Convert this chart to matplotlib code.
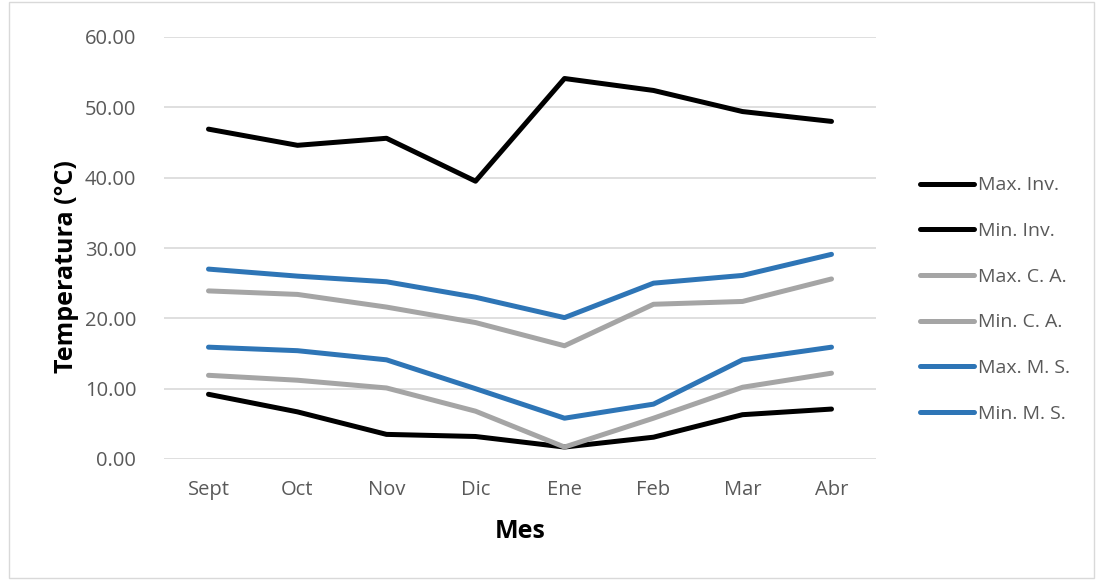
import matplotlib
matplotlib.use("Agg")
import matplotlib.pyplot as plt
from matplotlib.patches import Rectangle

plt.rcParams['font.family'] = ['Open Sans', 'DejaVu Sans']

months = ["Sept", "Oct", "Nov", "Dic", "Ene", "Feb", "Mar", "Abr"]
max_inv = [46.9, 44.6, 45.6, 39.5, 54.1, 52.4, 49.4, 48.0]
min_inv = [9.2, 6.7, 3.5, 3.2, 1.7, 3.1, 6.3, 7.1]
max_ca = [23.9, 23.4, 21.6, 19.4, 16.1, 22.0, 22.4, 25.6]
min_ca = [11.9, 11.2, 10.1, 6.8, 1.7, 5.8, 10.2, 12.2]
max_ms = [27.0, 26.0, 25.2, 23.0, 20.1, 25.0, 26.1, 29.1]
min_ms = [15.9, 15.4, 14.1, 10.0, 5.8, 7.8, 14.1, 15.9]

series = [
    ("Max. Inv.", max_inv, "#000000"),
    ("Min. Inv.", min_inv, "#000000"),
    ("Max. C. A.", max_ca, "#A5A5A5"),
    ("Min. C. A.", min_ca, "#A5A5A5"),
    ("Max. M. S.", max_ms, "#2E75B6"),
    ("Min. M. S.", min_ms, "#2E75B6"),
]

fig = plt.figure(figsize=(10.96, 5.8), dpi=100)
ax = fig.add_axes([164/1096, 1-459/580, (876-164)/1096, (459-37)/580])

x = list(range(len(months)))
for name, vals, col in series:
    ax.plot(x, vals, color=col, lw=3.6, label=name, solid_capstyle='round', solid_joinstyle='round')

ax.set_xlim(-0.5, len(months) - 0.5)
ax.set_ylim(0, 60)
ax.set_yticks(range(0, 61, 10))
ax.set_yticklabels([f"{v:.2f}" for v in range(0, 61, 10)])
ax.set_xticks(x)
ax.set_xticklabels(months)
ax.grid(axis='y', color='#D9D9D9', lw=1.2)
ax.set_axisbelow(True)
for s in ax.spines.values():
    s.set_visible(False)
ax.tick_params(axis='both', length=0, labelsize=14.5, colors='#595959')
ax.tick_params(axis='y', pad=20)
ax.tick_params(axis='x', pad=15)

ax.set_xlabel("Mes", fontsize=18, fontweight='bold', labelpad=14)
ax.set_ylabel("Temperatura (°C)", fontsize=18, fontweight='bold')
ax.yaxis.set_label_coords(-0.12, 0.455)

leg = fig.legend(loc='upper left', bbox_to_anchor=(902/1096, 1-159/580), frameon=False,
                 fontsize=14, labelspacing=1.42, handlelength=2.8, handletextpad=0.2,
                 labelcolor='#595959')

fig.patches.append(Rectangle((0.008, 0.003), 0.99, 0.994, transform=fig.transFigure,
                             fill=False, edgecolor='#D9D9D9', lw=1))

fig.savefig("out.png", dpi=100)
